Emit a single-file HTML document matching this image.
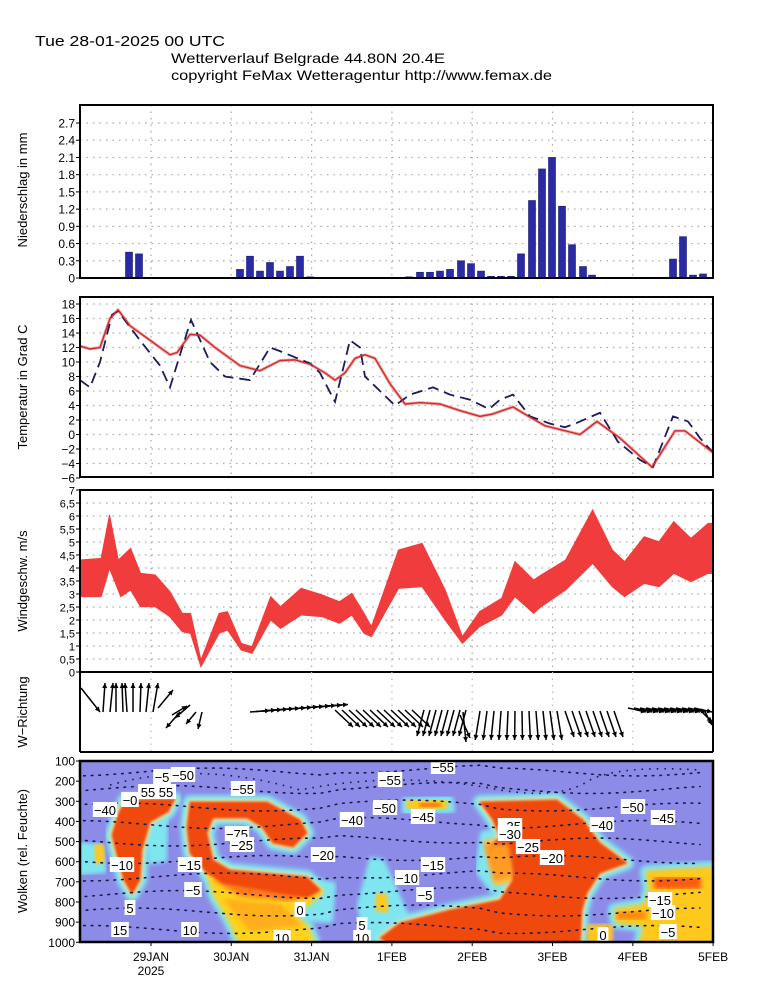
<!DOCTYPE html>
<html><head><meta charset="utf-8">
<style>
html,body{margin:0;padding:0;background:#fff;}
svg{display:block;}
text{font-family:"Liberation Sans",sans-serif;}
</style></head>
<body>
<svg id="s" width="770" height="986" viewBox="0 0 770 986" xmlns="http://www.w3.org/2000/svg">
<defs>
<filter id="bl" x="-10%" y="-10%" width="120%" height="120%"><feGaussianBlur stdDeviation="2.2"/></filter>
<filter id="bl2" x="-10%" y="-10%" width="120%" height="120%"><feGaussianBlur stdDeviation="1.2"/></filter>
<clipPath id="c5"><rect x="80" y="761" width="633" height="181"/></clipPath>
<clipPath id="c2"><rect x="80" y="297" width="633" height="180"/></clipPath>
</defs>
<text x="35" y="46" font-size="15" textLength="190" lengthAdjust="spacingAndGlyphs">Tue 28-01-2025 00 UTC</text>
<text x="171" y="63" font-size="14" textLength="274" lengthAdjust="spacingAndGlyphs">Wetterverlauf Belgrade  44.80N 20.4E</text>
<text x="171" y="80" font-size="14" textLength="381" lengthAdjust="spacingAndGlyphs">copyright FeMax Wetteragentur http://www.femax.de</text>

<g clip-path="url(#c5)">
<rect x="80" y="761" width="633" height="181" fill="#8c8ce8"/>
<g id="clouds"></g>
</g>
<g id="g"></g>
</svg>
<script>
var S=document.getElementById('s'),G=document.getElementById('g'),CL=document.getElementById('clouds');
var NS='http://www.w3.org/2000/svg';
function el(p,t,a,txt){var e=document.createElementNS(NS,t);for(var k in a)e.setAttribute(k,a[k]);if(txt!==undefined)e.textContent=txt;p.appendChild(e);return e;}
function pts(a){return a.map(function(p){return p[0]+','+p[1]}).join(' ');}
var L=80,R=713;
var days=[];for(var k=0;k<8;k++)days.push(151+80.3*k);
function grid(y0,y1,ys){
  ys.forEach(function(y){el(G,'line',{x1:L,x2:R,y1:y,y2:y,stroke:'#aaa','stroke-width':1.2,'stroke-dasharray':'1.5 5'});});
  days.slice(0,7).forEach(function(x){el(G,'line',{x1:x,x2:x,y1:y0,y2:y1,stroke:'#aaa','stroke-width':1.2,'stroke-dasharray':'1.5 5'});});
}
function ylab(vals,fy,fmt,fs){vals.forEach(function(v){var y=fy(v);el(G,'text',{x:75,y:y+4.5,'font-size':fs||12,'text-anchor':'end'},fmt(v));el(G,'line',{x1:76,x2:80,y1:y,y2:y,stroke:'#000'});});}
// Panel1
var p1=function(v){return 278-v*57.4;};var v1=[];for(var i=0;i<=9;i++)v1.push(i*0.3);
grid(105,278,v1.slice(1).map(p1));
ylab(v1,p1,function(v){return v==0?'0':v.toFixed(1)});
var bars=[[129,.45],[139,.42],[240,.15],[250,.38],[260,.12],[270,.27],[280,.12],[290,.2],[300,.38],[310,.02],[409,.02],[420,.1],[430,.1],[440,.12],[450,.15],[461,.3],[471,.25],[481,.12],[491,.03],[501,.03],[511,.03],[521,.42],[532,1.35],[542,1.9],[552,2.1],[562,1.25],[572,.58],[583,.2],[592,.05],[673,.33],[683,.72],[693,.05],[703,.07]];
bars.forEach(function(b){var h=b[1]*57.4;el(G,'rect',{x:b[0]-3.5,y:278-h,width:7,height:h,fill:'#2a2aa6',stroke:'#1a1a70','stroke-width':.6});});
el(G,'rect',{x:L,y:105,width:R-L,height:173,fill:'none',stroke:'#000','stroke-width':2});
// Panel2
var p2=function(t){return 434.5-7.25*t;};var v2=[];for(var t=-6;t<=18;t+=2)v2.push(t);
grid(297,477,v2.slice(1).map(p2));
ylab(v2,p2,function(v){return v<0?'\u2212'+(-v):''+v});
var red=[[80,12.2],[90,11.8],[100,12],[110,16],[118,17.2],[130,15],[150,13],[170,11],[177,11.3],[190,13.8],[200,13.7],[215,12],[240,9.5],[260,8.8],[280,10.2],[295,10.3],[310,9.7],[325,8.5],[335,7.5],[345,8.5],[355,10.5],[365,11],[375,10.5],[390,7],[405,4.2],[420,4.4],[440,4.2],[460,3.3],[480,2.5],[492,2.8],[513,3.8],[525,2.8],[545,1.2],[580,0],[597,1.8],[620,-0.5],[652,-4.5],[675,0.5],[685,0.5],[713,-2.5]];
var blu=[[80,7.5],[90,6.5],[100,10],[112,16.5],[118,17],[140,13],[160,9.5],[170,6.5],[180,11],[191,15.8],[210,10],[225,8],[250,7.5],[270,12],[280,11.5],[310,9.8],[320,8.5],[335,4.5],[350,13],[360,12],[365,8],[380,6],[395,4],[410,5.5],[433,6.5],[450,5.5],[470,4.8],[489,3.5],[500,4.8],[513,5.5],[530,2.5],[550,1.5],[565,1],[575,1.5],[600,3],[618,-1],[640,-3.5],[653,-4.5],[673,2.5],[688,1.8],[700,-0.5],[713,-2.5]];
var c2=el(G,'g',{'clip-path':'url(#c2)'});
el(c2,'polyline',{points:pts(red.map(function(p){return[p[0],p2(p[1])]})),fill:'none',stroke:'#f0a0a0','stroke-width':3,'stroke-linejoin':'round'});
el(c2,'polyline',{points:pts(blu.map(function(p){return[p[0],p2(p[1])]})),fill:'none',stroke:'#1c1c5e','stroke-width':1.8,'stroke-dasharray':'11 6'});
el(c2,'polyline',{points:pts(red.map(function(p){return[p[0],p2(p[1])]})),fill:'none',stroke:'#d02828','stroke-width':1.3,'stroke-linejoin':'round'});
el(G,'rect',{x:L,y:297,width:R-L,height:180,fill:'none',stroke:'#000','stroke-width':2});
// Panel3
var p3=function(v){return 672-26*v;};var v3=[];for(var i=0;i<=14;i++)v3.push(i*0.5);
grid(490,672,v3.slice(1).map(p3));
ylab(v3,p3,function(v){return v%1?v.toFixed(1).replace('.',','):''+v},11);
var up=[[162,240],[205,235],[222,105],[240,240],[265,205],[285,280],[315,285],[345,335],[370,400],[387,400],[408,540],[445,400],[462,395],[490,490],[512,500],[550,350],[570,380],[612,325],[655,345],[690,365],[715,340],[740,400],[755,440],[810,210],[858,190],[905,330],[940,470],[975,395],[1020,355],[1047,245],[1085,300],[1100,285],[1150,240],[1205,90],[1245,210],[1270,245],[1310,170],[1340,185],[1370,125],[1405,175],[1440,130],[1450,130]];
var lo=[[162,350],[205,350],[222,265],[245,350],[265,330],[285,380],[315,380],[345,410],[370,455],[387,460],[408,560],[445,460],[462,450],[490,510],[512,520],[550,420],[570,445],[612,405],[655,410],[690,430],[715,405],[740,460],[755,470],[810,325],[858,320],[905,420],[940,490],[975,440],[1020,405],[1047,350],[1085,400],[1100,380],[1150,330],[1205,250],[1245,320],[1270,350],[1310,310],[1340,320],[1370,280],[1405,305],[1440,280],[1450,280]];
function cv(p){return[80+(p[0]-162)*0.4915,480+p[1]/3];}
var band=up.map(cv).concat(lo.map(cv).reverse());
el(G,'polygon',{points:pts(band),fill:'#f03c3c',stroke:'#f03c3c','stroke-width':1});
el(G,'rect',{x:L,y:490,width:R-L,height:182,fill:'none',stroke:'#000','stroke-width':2});
// Panel4 arrows
days.slice(0,7).forEach(function(x){el(G,'line',{x1:x,x2:x,y1:672,y2:752,stroke:'#bbb','stroke-width':1.2,'stroke-dasharray':'1.5 5'});});
var A=[];
[[103,2],[110,3],[116,0],[123,-1],[127,-2],[133,0],[140,1],[146,3],[153,5]].forEach(function(a){A.push([a[0],712,a[0]+a[1],683]);});
A.push([81,688,100,712]);
A.push([158,708,173,690]);
A.push([180,712,166,728]);A.push([190,705,175,718]);A.push([196,712,186,724]);A.push([202,712,198,729]);A.push([172,715,187,706]);
for(var x=250;x<=330;x+=6){var yy=712-(x-250)/13;A.push([x,yy,x+20,yy-1.5]);}
for(var x=335;x<=418;x+=7)A.push([x,710,x+18,727]);
for(var x=424;x<=470;x+=6)A.push([x,710,x-7,736]);
A.push([463,712,466,742]);A.push([460,715,470,738]);
for(var x=480;x<=560;x+=7)A.push([x,711,x+(x-518)/8,740]);
for(var x=565;x<=615;x+=7)A.push([x,711,x+9,737]);
for(var x=628;x<=695;x+=6)A.push([x,708,x+18,712]);
A.push([700,710,712,722]);A.push([705,712,712,725]);
A.forEach(function(a){var dx=a[2]-a[0],dy=a[3]-a[1],l=Math.sqrt(dx*dx+dy*dy),ux=dx/l,uy=dy/l;
 el(G,'line',{x1:a[0],y1:a[1],x2:a[2],y2:a[3],stroke:'#000','stroke-width':1.5});
 var hx=a[2]-ux*5,hy=a[3]-uy*5;
 el(G,'polygon',{points:pts([[a[2],a[3]],[hx-uy*2.5,hy+ux*2.5],[hx+uy*2.5,hy-ux*2.5]]),fill:'#000'});});
el(G,'line',{x1:L,x2:L,y1:672,y2:752,stroke:'#000','stroke-width':2});
el(G,'line',{x1:R,x2:R,y1:672,y2:752,stroke:'#000','stroke-width':2});
el(G,'line',{x1:L,x2:R,y1:752,y2:752,stroke:'#000','stroke-width':2});
// Clouds
function blob(arr,fill,sw,col,f){el(CL,'polygon',{points:pts(arr),fill:fill,stroke:col||fill,'stroke-width':sw||0,'stroke-linejoin':'round',filter:'url(#'+(f||'bl')+')'});}
var A1=[[125,800],[175,799],[168,812],[150,822],[142,850],[140,880],[132,894],[124,880],[117,855],[112,835],[118,815]];
var B1=[[190,802],[267,802],[300,820],[307,833],[293,847],[273,843],[262,827],[247,818],[213,818],[207,833],[213,860],[230,870],[263,873],[307,877],[320,890],[307,897],[280,893],[247,887],[223,883],[207,873],[190,853],[187,827]];
var BY=[[207,870],[250,880],[300,880],[322,892],[307,905],[287,910],[307,927],[313,942],[240,942],[230,920],[215,895]];
var C1=[[480,802],[557,800],[583,820],[600,843],[627,863],[600,873],[587,893],[582,910],[580,948],[395,948],[380,938],[400,923],[450,910],[500,900],[513,880],[510,860],[490,847],[500,837],[493,820]];
var E1=[[647,872],[712,868],[712,945],[640,945],[645,925],[617,922],[615,910],[645,905],[650,890]];
[A1,B1,BY,C1,E1].forEach(function(p){blob(p,'#7fe6f0',14);});
blob([[80,845],[100,847],[104,870],[80,872]],'#7fe6f0',6);
blob([[147,800],[167,800],[165,860],[150,862]],'#7fe6f0',4);
blob([[293,878],[333,885],[330,920],[300,918]],'#7fe6f0',6);
blob([[372,860],[382,862],[410,925],[405,942],[367,942],[360,905]],'#7fe6f0',6);
blob([[405,800],[450,798],[452,810],[405,812]],'#7fe6f0',6);
blob([[485,835],[515,835],[520,880],[495,890],[480,870]],'#7fe6f0',10);
blob([[695,930],[713,928],[713,942],[695,942]],'#7fe6f0',4);
[A1,B1,C1].forEach(function(p){blob(p,'#ffe890',4);});
blob(BY,'#ffd21e',4);
blob(E1,'#ffc81e',3);
blob([[377,893],[386,895],[388,912],[376,910]],'#ffc81e',2);
blob([[95,845],[103,845],[104,862],[96,863]],'#ffc81e',2);
blob([[407,800],[447,800],[446,809],[408,809]],'#ffc81e',2);
blob([[588,925],[612,925],[612,942],[588,942]],'#ffc81e',2);
blob([[485,840],[515,840],[518,880],[495,885]],'#ffc040',2);
blob([[215,880],[300,880],[318,892],[290,900],[240,895]],'#ff7a1a',2,null,'bl');
blob([[225,900],[280,905],[300,925],[250,930]],'#ffae1e',2,null,'bl');
blob([[420,803],[440,803],[440,807],[420,807]],'#ff6a10',1);
blob([[655,878],[700,878],[700,888],[655,888]],'#ff5a10',2);
blob([[618,912],[645,912],[645,919],[618,919]],'#ff8a10',2);
blob(A1,'#f04810',1,null,'bl2');
blob(B1,'#f04810',1,null,'bl2');
blob(C1,'#f04810',1,null,'bl2');
blob([[485,845],[508,845],[512,875],[495,880]],'#ff9a20',2,null,'bl');
for(var j=0;j<10;j++){var y0=772+j*17.5,d='M80,'+y0;for(var x=80;x<=713;x+=20){d+=' L'+x+','+(y0+4*Math.sin(x/45+j)+ (x>330&&x<500?-3:0));}
 el(CL,'path',{d:d,fill:'none',stroke:'#1a1a4a','stroke-width':1.6,'stroke-dasharray':'1.6 6','stroke-linecap':'round'});}
el(CL,'path',{d:'M110,785 Q200,760 300,790 Q400,770 500,790 Q560,800 590,780 Q620,765 700,770',fill:'none',stroke:'#1a1a4a','stroke-width':1.6,'stroke-dasharray':'1.6 6'});
var labs=[['-50',183,775],['-5',162,777],['55 55',157,792],['-0',130,800],['-40',105,810],['-55',243,789],['-75',237,834],['-25',242,845],['-20',323,855],['-15',190,865],['-10',122,865],['-5',193,890],['5',130,908],['15',120,930],['10',190,930],['0',300,910],['10',282,938],['5',362,925],['10',362,938],['-55',390,780],['-50',385,808],['-40',352,820],['-55',443,767],['-45',423,817],['-15',433,865],['-10',407,878],['-5',425,895],['-35',510,826],['-30',510,834],['-25',528,847],['-20',552,858],['-40',602,825],['-50',633,807],['-45',663,818],['-15',660,900],['-10',663,913],['-5',668,932],['0',603,935]];
labs.forEach(function(l){var w=l[0].length*6.8+4;el(CL,'rect',{x:l[1]-w/2,y:l[2]-8,width:w,height:15,fill:'#fff'});
 el(CL,'text',{x:l[1],y:l[2]+5,'font-size':13,'text-anchor':'middle'},l[0].replace('-','\u2212'));});
el(G,'rect',{x:L,y:761,width:R-L,height:181,fill:'none',stroke:'#000','stroke-width':2.5});
var p5=function(p){return 761+(p-100)*0.2014;};var v5=[];for(var p=100;p<=1000;p+=100)v5.push(p);
ylab(v5,p5,function(v){return''+v},12);
var dl=['29JAN','30JAN','31JAN','1FEB','2FEB','3FEB','4FEB','5FEB'];
days.forEach(function(x,i){el(G,'text',{x:x,y:961,'font-size':12,'text-anchor':'middle'},dl[i]);el(G,'line',{x1:x,x2:x,y1:942,y2:946,stroke:'#000'});});
el(G,'text',{x:151,y:975,'font-size':12,'text-anchor':'middle'},'2025');
[['Niederschlag  in  mm',190],['Temperatur  in  Grad  C',387],['Windgeschw.  m/s',581],['W\u2212Richtung',712],['Wolken  (rel.  Feuchte)',851]].forEach(function(t){
 el(G,'text',{x:0,y:0,'font-size':13,'text-anchor':'middle',transform:'translate(27,'+t[1]+') rotate(-90)'},t[0]);});
</script>
</body></html>
